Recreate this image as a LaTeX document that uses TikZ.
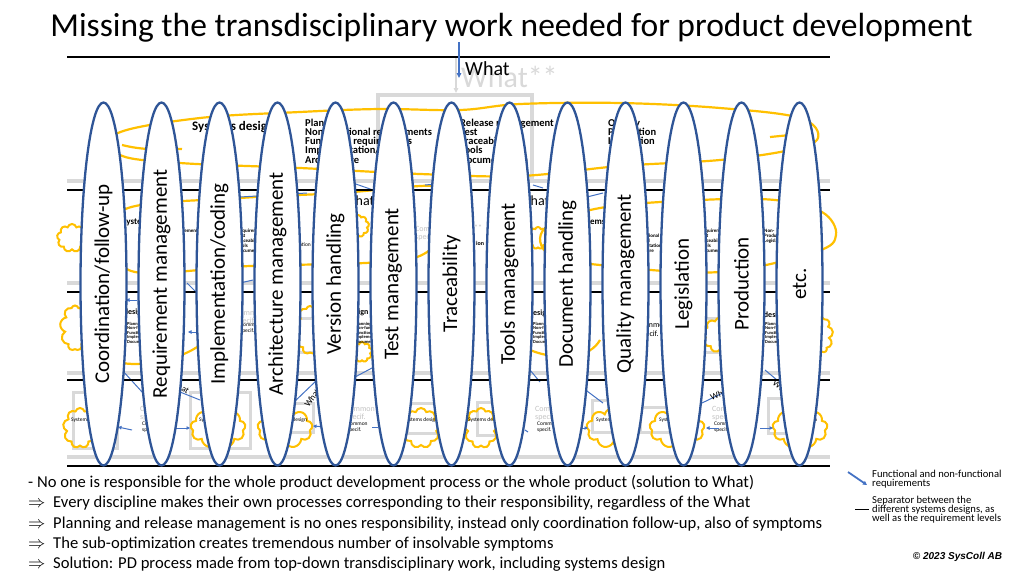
\documentclass[tikz,border=0pt]{standalone}
\usepackage{fontspec}
\setmainfont{Carlito}
\newfontfamily\arialf{Liberation Sans}
\usetikzlibrary{shapes.geometric,shapes.symbols,arrows.meta}
\definecolor{ellblue}{RGB}{47,85,151}
\definecolor{reqblue}{RGB}{68,114,196}
\definecolor{ygold}{RGB}{255,192,0}
\definecolor{lgray}{RGB}{217,217,217}
\definecolor{fgray}{RGB}{195,195,195}
\newcommand{\myfs}[2]{\fontsize{#1}{#2}\selectfont}
\begin{document}
\begin{tikzpicture}[x=1pt,y=-1pt,
  discipline/.style={ellipse, draw=ellblue, fill=white, line width=2.3pt, minimum width=46pt, minimum height=363pt, inner sep=0pt},
  disctext/.style={rotate=90, font=\myfs{21}{25}, inner sep=0pt},
  sepline/.style={line width=2.6pt, black},
  greyline/.style={line width=3.5pt, lgray},
  greybox/.style={draw=lgray, line width=3pt},
  ycloud/.style={cloud, cloud puffs=9, aspect=1.3, draw=ygold, line width=2pt, inner sep=0pt},
  yline/.style={ygold, line width=2.2pt},
  reqline/.style={reqblue, line width=1pt},
  req/.style={reqblue, line width=1pt, -{Triangle[length=3.5pt,width=3.5pt]}},
  sysname/.style={font=\bfseries\myfs{#1}{#1}, anchor=west, inner sep=0pt},
  sysname/.default=8,
  tinylist/.style={font=\bfseries\myfs{#1}{#1}, anchor=north west, align=left, inner sep=0pt},
  tinylist/.default=5,
  spec/.style={font=\myfs{5.5}{6}, anchor=west, align=left, inner sep=0pt},
  fspec/.style={font=\myfs{8}{8}, text=fgray, anchor=west, align=left, inner sep=0pt},
  bullet/.style={font=\myfs{16.6}{19}, anchor=base west, inner sep=0pt},
  legend/.style={font=\myfs{10.6}{9.4}, anchor=north west, align=left, inner sep=0pt}
]
\useasboundingbox (0,0) rectangle (1024,576);
\fill[white] (0,0) rectangle (1024,576);

% ---------- title ----------
\node[font=\myfs{33.5}{38}, inner sep=0pt, anchor=base] (title) at (511.5,36) {Missing the transdisciplinary work needed for product development};

% ---------- background: top level ----------
\draw[greybox, line width=4pt] (378,95) rectangle (532,181);
\node[font=\myfs{30}{30}, text=lgray, anchor=west, inner sep=0pt] (whatbg) at (461,77) {What**};
\coordinate (gtop) at (456,58);
\coordinate (gbot) at (456,93);
\draw[lgray, line width=1.5pt, -{Triangle[length=5pt,width=4.5pt]}] (gtop) -- (gbot);

% separators (grey)
\foreach \y [count=\k] in {181,283,373,457} \draw[greyline] (67,\y) -- (830,\y);

% yellow scribbles top level
\draw[yline] plot[smooth cycle, tension=0.6] coordinates {(118,133) (200,118) (300,112) (380,109) (460,110) (520,104) (620,103) (720,108) (800,118) (818,138) (790,150) (720,160) (620,166) (520,176) (420,174) (300,168) (180,163) (120,155)};
\draw[yline] (122,145) .. controls (150,152) and (168,148) .. (182,149);
\draw[yline] (770,137) -- (800,134);

\node[sysname=13] (topsys) at (192,127) {Systems design};
\node[tinylist=10.5] (topA) at (305,118.5) {Planning\\[-1.2pt]Non-functional requirements\\[-1.2pt]Functional requirements\\[-1.2pt]Implementation/coding\\[-1.2pt]Architecture};
\node[tinylist=10.5] (topB) at (460,118.5) {Release management\\[-1.2pt]Test\\[-1.2pt]Traceability\\[-1.2pt]Tools\\[-1.2pt]Documentation};
\node[tinylist=10.5] (topC) at (608,118.5) {Quality\\[-1.2pt]Production\\[-1.2pt]Legislation};

% ---------- background: level 2 ----------
\draw[yline] plot[smooth cycle, tension=0.6] coordinates {(128,208) (240,198) (340,193) (440,186) (458,205) (430,250) (380,262) (250,266) (135,272) (120,240)};
\draw[yline] plot[smooth cycle, tension=0.6] coordinates {(545,228) (600,208) (700,200) (775,200) (822,212) (836,235) (815,252) (720,272) (610,266) (550,255)};
\node[ycloud, minimum width=30pt, minimum height=28pt] (c2a) at (72,238) {};
\node[ycloud, minimum width=22pt, minimum height=22pt] (c2b) at (358,226) {};
\node[ycloud, minimum width=20pt, minimum height=22pt] (c2c) at (538,238) {};
\node[sysname=9] (l2sysA) at (122,222) {Systems design};
\node[tinylist] (l2A) at (150,229) {Planning, Requirement\\Non-functional\\Functional\\Implementation\\Documentation};
\node[tinylist] (l2B) at (237,229) {Requirement\\Test\\Traceability\\Tools\\Documentation.};
\node[font=\myfs{14}{14}, anchor=west, inner sep=0pt] (l2whatA) at (343,201) {What};
\node[font=\myfs{14}{14}, anchor=west, inner sep=0pt] (l2whatB) at (518,201) {What};
\node[fspec] (l2specA) at (415,234) {Common\\specif.};
\node[spec, anchor=east] (l2doc) at (311,245) {Documentation};
\node[font=\myfs{8}{8}, text=fgray, inner sep=0pt] (l2star) at (478,228) {**};
\node[font=\bfseries\myfs{6}{6}, inner sep=0pt] (l2ion) at (480,243) {ion};
\node[sysname=9] (l2sysB) at (575,222) {Systems design};
\node[tinylist] (l2C) at (628,229) {Planning,\\Non-functional\\Functional\\Implementation\\Architecture};
\node[tinylist] (l2D) at (700,229) {Requirement\\Test\\Traceability\\Tools\\Documentation};
\node[tinylist] (l2E) at (764,229) {Non-\\Production\\Legislation};

% ---------- background: level 3 ----------
\draw[greybox] (290,318) rectangle (330,352);
\draw[greybox] (700,318) rectangle (745,352);
\node[ycloud, minimum width=30pt, minimum height=45pt] (c3a) at (75,328) {};
\node[ycloud, minimum width=32pt, minimum height=48pt] (c3b) at (310,330) {};
\node[ycloud, minimum width=20pt, minimum height=20pt] (c3c) at (362,352) {};
\node[ycloud, minimum width=35pt, minimum height=35pt] (c3d) at (720,335) {};
\node[ycloud, minimum width=22pt, minimum height=35pt] (c3e) at (822,335) {};
\draw[yline] (118,362) .. controls (140,368) and (180,360) .. (200,345);
\draw[yline] (530,350) .. controls (560,362) and (590,358) .. (600,340);
\node[sysname] (l3sysA) at (95,312) {Systems design};
\node[tinylist=4.5] (l3A) at (127,322) {Planning, R\\Non-functional\\Functional\\Implementation\\Documentation};
\node[fspec] (l3fspecA) at (235,318) {Common\\specif.};
\node[spec] (l3specA) at (240,328) {Common\\specif.};
\node[sysname] (l3sysB) at (318,312) {Systems design};
\node[tinylist=4.5] (l3B) at (355,322) {Planning, R\\Non-functional\\Functional\\Implementation\\Documentation};
\node[sysname] (l3sysC) at (500,313) {Systems design};
\node[tinylist=4.5] (l3C) at (533,322) {Planning, R\\Non-functional\\Functional\\Implementation\\Documentation};
\node[spec, font=\myfs{8}{9}] (l3specB) at (638,330) {Common\\specif.};
\node[sysname] (l3sysD) at (735,315) {Systems design};
\node[tinylist=4.5] (l3D) at (765,322) {Planning, R\\Non-functional\\Functional\\Implementation\\Documentation};

% ---------- background: level 4 ----------
\foreach \bx/\by/\bw/\bh/\cx/\cw/\tx [count=\i] in
  {73/392/44/56/80/34/88, 190/392/60/56/218/55/216, 273/403/40/29/285/55/290, 407/403/30/30/421/38/421,
   477/402/40/33/481/34/485, 592/400/28/32/613/53/613, 640/407/33/25/677/55/676, 768/398/32/35/800/55/800} {
  \draw[greybox] (\bx,\by) rectangle ++(\bw,\bh);
  \node[ycloud, minimum width=\cw pt, minimum height=40pt] (c4\i) at (\cx,428) {};
  \node[font=\myfs{5.5}{5.5}, inner sep=0pt] (s4\i) at (\tx,420) {Systems design};
}
\foreach \sx [count=\i] in {140,345,535,712} {
  \node[fspec] (f4\i) at (\sx,414) {Common\\specif.};
  \node[spec] (p4\i) at (\sx+2,427) {Common\\specif.};
}
% short requirement arrows level 4
\draw[req] (132,430) -- (118,427);
\draw[req] (176,428) -- (190,428);
\draw[req] (325,427) -- (313,426);
\draw[reqline] (372,427) -- (378,427);
\draw[reqline] (525,430) -- (528,432);
\draw[req] (576,428) -- (588,428);
\draw[req] (719,428) -- (706,428);
\draw[req] (760,428) -- (773,428);
% diagonal requirement lines
\draw[reqline] (122,370) -- (143,393);
\draw[reqline] (180,392) -- (200,400);
\draw[reqline] (317,380) -- (293,403);
\draw[reqline] (530,370) -- (540,382);
\draw[reqline] (583,388) -- (603,403);
\draw[reqline] (702,403) -- (733,388);
\draw[reqline] (765,370) -- (777,380);
\draw[reqline] (240,197) -- (307,193);
\draw[reqline] (350,182) -- (373,190);
\draw[reqline] (425,185) -- (460,182);
\draw[reqline] (533,185) -- (543,188);
\draw[reqline] (587,197) -- (603,193);
\draw[reqline] (187,283) -- (197,293);
\draw[reqline] (240,283) -- (253,280);
\draw[reqline] (355,377) -- (372,368);
\draw[req] (137,300) -- (126,300);
\draw[req] (199,332) -- (188,332);
\node[font=\myfs{9}{9}, rotate=22, inner sep=0pt] (w4a) at (720,394) {What};
\node[font=\myfs{9}{9}, rotate=-35, inner sep=0pt] (w4b) at (782,388) {What};
\node[font=\myfs{9}{9}, rotate=-30, inner sep=0pt] (w4c) at (180,386) {What};
\node[font=\myfs{9}{9}, rotate=55, inner sep=0pt] (w4d) at (312,398) {What};

% separators (black)
\foreach \y in {57,190,292,380,466} \draw[sepline] (67,\y) -- (830,\y);

% ---------- what arrow ----------
\coordinate (wtop) at (459,42);
\coordinate (wbot) at (459,78);
\draw[reqblue, line width=1.3pt, -{Triangle[length=5pt,width=4.5pt]}] (wtop) -- (wbot);
\node[font=\myfs{20}{20}, anchor=west, inner sep=0pt] (what) at (465,69) {What};

% ---------- disciplines ----------
\foreach \lab [count=\i from 0] in {Coordination/follow-up, Requirement management, Implementation/coding, Architecture management, Version handling, Test management, Traceability, Tools management, Document handling, Quality management, Legislation, Production, etc.} {
  \node[discipline] (e\i) at ({103.5+58*\i},284) {};
  \node[disctext] (t\i) at (e\i.center) {\lab};
}

% ---------- bottom text ----------
\node[bullet] (b1) at (28,487) {- No one is responsible for the whole product development process or the whole product (solution to What)};
\node[bullet] (b2) at (28,507.5) {\makebox[25pt][l]{$\Rightarrow$}Every discipline makes their own processes corresponding to their responsibility, regardless of the What};
\node[bullet] (b3) at (28,528) {\makebox[25pt][l]{$\Rightarrow$}Planning and release management is no ones responsibility, instead only coordination follow-up, also of symptoms};
\node[bullet] (b4) at (28,548) {\makebox[25pt][l]{$\Rightarrow$}The sub-optimization creates tremendous number of insolvable symptoms};
\node[bullet] (b5) at (28,568.5) {\makebox[25pt][l]{$\Rightarrow$}Solution: PD process made from top-down transdisciplinary work, including systems design};

% ---------- legend ----------
\coordinate (la1) at (848,472);
\coordinate (la2) at (867,485);
\draw[reqblue, line width=1.8pt, -{Triangle[length=4pt,width=4pt]}] (la1) -- (la2);
\node[legend] (lt1) at (872,469.5) {Functional and non-functional\\requirements};
\coordinate (ls1) at (855,509.5);
\coordinate (ls2) at (869,509.5);
\draw[black, line width=1.8pt] (ls1) -- (ls2);
\node[legend] (lt2) at (872,495.5) {Separator between the\\different systems designs, as\\well as the requirement levels};
\node[font=\arialf\bfseries\itshape\myfs{10}{10}, inner sep=0pt] (copy) at (957.5,557) {© 2023 SysColl AB};
\end{tikzpicture}
\end{document}
